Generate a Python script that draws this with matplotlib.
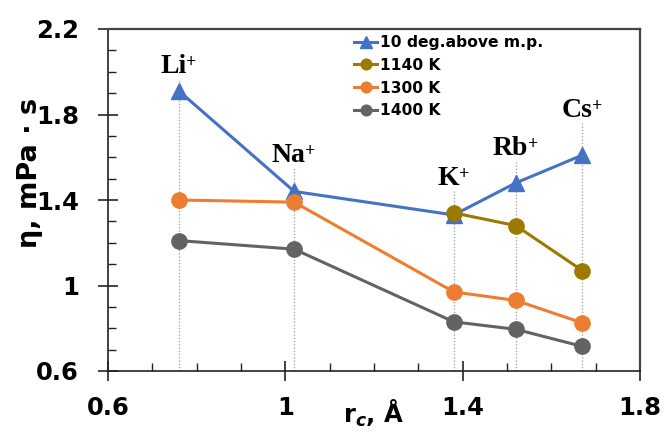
import matplotlib
matplotlib.use("Agg")
import matplotlib.pyplot as plt
from matplotlib.ticker import MultipleLocator

plt.rcParams["mathtext.fontset"] = "custom"
plt.rcParams["mathtext.rm"] = "DejaVu Sans:bold"
plt.rcParams["mathtext.it"] = "DejaVu Sans:italic:bold"
plt.rcParams["mathtext.bf"] = "DejaVu Sans:bold"

# Cation radii (Å) and labels
ions = ["Li", "Na", "K", "Rb", "Cs"]
radii = [0.76, 1.02, 1.38, 1.52, 1.67]
label_base = [1.995, 1.578, 1.47, 1.61, 1.788]

# Viscosity (mPa·s)
visc_mp10 = [1.91, 1.44, 1.33, 1.48, 1.61]
radii_1140 = [1.38, 1.52, 1.67]
visc_1140 = [1.34, 1.28, 1.07]
visc_1300 = [1.40, 1.39, 0.97, 0.93, 0.825]
visc_1400 = [1.21, 1.17, 0.83, 0.795, 0.715]

font_sans = ["DejaVu Sans"]
font_serif = ["Liberation Serif", "DejaVu Serif"]

fig = plt.figure(figsize=(6.64, 4.33), dpi=100)
ax = fig.add_axes([108 / 664, 62 / 433, 532 / 664, 342 / 433])

# Dotted guides from each ion label down to the axis, label on top
for name, x, ly in zip(ions, radii, label_base):
    ax.plot([x, x], [0.6, ly - 0.03], ls=(0, (1, 1.6)), color="#9a9a9a",
            lw=0.9, zorder=1)
    t = ax.text(x - 0.012, ly, name, ha="center", va="baseline",
                fontsize=20, fontweight="bold", family=font_serif)
    ax.annotate("+", xy=(0.98, 1.0), xycoords=t, ha="left", va="top",
                fontsize=13, fontweight="bold", family=font_serif)

ax.plot(radii, visc_mp10, color="#4472C4", lw=2.2, marker="^", ms=11.5,
        label="10 deg.above m.p.", zorder=3)
ax.plot(radii_1140, visc_1140, color="#9C7A00", lw=2.2, marker="o", ms=11,
        label="1140 K", zorder=4)
ax.plot(radii, visc_1300, color="#ED7D31", lw=2.2, marker="o", ms=11,
        label="1300 K", zorder=3)
ax.plot(radii, visc_1400, color="#636363", lw=2.2, marker="o", ms=11,
        label="1400 K", zorder=3)

ax.set_xlim(0.6, 1.8)
ax.set_ylim(0.6, 2.2)
ax.xaxis.set_minor_locator(MultipleLocator(0.1))
ax.yaxis.set_minor_locator(MultipleLocator(0.1))
ax.set_xticks([0.6, 1.0, 1.4, 1.8])
ax.set_xticklabels(["0.6", "1", "1.4", "1.8"])
ax.set_yticks([0.6, 1.0, 1.4, 1.8, 2.2])
ax.set_yticklabels(["0.6", "1", "1.4", "1.8", "2.2"])

ax.tick_params(which="major", direction="inout", length=14, width=1.2,
               colors="#222222", labelsize=17.5)
ax.tick_params(axis="x", which="major", pad=11)
ax.tick_params(axis="y", which="major", pad=14)
ax.tick_params(which="minor", direction="in", length=6, width=1.0,
               colors="#222222")
for lab in ax.get_xticklabels() + ax.get_yticklabels():
    lab.set_fontweight("bold")
    lab.set_family(font_sans)
    lab.set_color("black")

for side in ["left", "bottom"]:
    ax.spines[side].set_color("#222222")
    ax.spines[side].set_linewidth(1.2)
for side in ["top", "right"]:
    ax.spines[side].set_color("#444444")
    ax.spines[side].set_linewidth(1.6)

fig.text(374 / 664, 1 - 423 / 433, "r$_{c}$, Å", ha="center", va="baseline",
         fontsize=17.5, fontweight="bold", family=font_sans)
fig.text(30 / 664, 1 - 173 / 433, "η, mPa · s", ha="center", va="center",
         rotation=90, fontsize=19.5, fontweight="bold", family=font_sans)

leg = ax.legend(loc="upper left", bbox_to_anchor=(354 / 664, 1 - 35 / 433),
                bbox_transform=fig.transFigure, frameon=False,
                prop={"family": font_sans, "weight": "bold", "size": 11.2},
                handlelength=1.5, handletextpad=0.15, labelspacing=0.5,
                borderaxespad=0, borderpad=0, markerscale=0.7)

fig.savefig("out.png", dpi=100)
